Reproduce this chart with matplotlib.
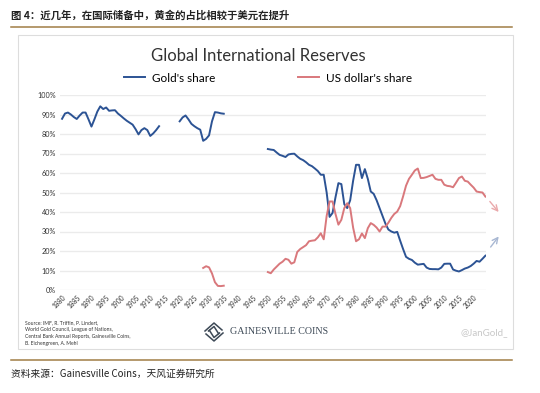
import matplotlib
matplotlib.use("Agg")
import matplotlib.pyplot as plt
from matplotlib.patches import Rectangle
from matplotlib.lines import Line2D
import numpy as np

# ---- data ----
years_a = list(range(1880, 1914))
gold_a = [87.8, 90.5, 91.0, 90.0, 88.7, 87.7, 89.5, 91.0, 91.0, 87.5,
          83.8, 87.5, 91.5, 94.2, 92.8, 93.6, 91.9, 92.1, 92.2, 90.5,
          89.3, 88.0, 86.8, 85.8, 84.8, 82.5, 79.8, 82.0, 83.0, 82.0,
          79.0, 80.3, 82.0, 84.0]

years_b = list(range(1920, 1936))
gold_b = [86.5, 88.5, 89.5, 87.5, 85.2, 84.0, 83.0, 82.2, 76.5, 77.5,
          79.3, 86.5, 91.2, 91.0, 90.6, 90.4]

years_usd_b = list(range(1928, 1936))
usd_b = [11.3, 12.2, 11.6, 8.5, 4.0, 2.1, 2.0, 2.2]

years_c = list(range(1950, 2025))
gold_c = [72.3, 72.0, 71.8, 70.5, 69.3, 68.8, 68.2, 69.5, 69.8, 69.9,
          68.5, 67.3, 66.6, 65.5, 64.2, 63.5, 62.3, 61.0, 59.1, 59.1,
          50.0, 37.5, 39.5, 47.5, 54.8, 54.3, 44.0, 42.0, 46.0, 56.0,
          64.2, 64.2, 57.4, 62.0, 57.0, 50.5, 49.3, 46.0, 42.0, 38.0,
          34.0, 31.0, 30.0, 29.4, 29.8, 25.3, 21.0, 17.0, 16.0, 15.4,
          14.0, 13.0, 13.2, 13.4, 11.5, 10.8, 10.7, 10.7, 10.6, 11.5,
          13.4, 13.5, 13.5, 10.5, 9.9, 9.5, 10.2, 11.0, 11.5, 12.3,
          13.5, 14.9, 14.5, 16.0, 17.6]
usd_c = [9.2, 8.6, 10.5, 12.0, 13.5, 14.5, 16.0, 15.5, 13.5, 14.2,
         19.5, 21.0, 22.0, 23.0, 25.0, 25.3, 25.5, 27.0, 29.1, 26.0,
         38.0, 45.4, 45.4, 39.0, 33.5, 36.0, 42.0, 44.5, 42.0, 32.0,
         25.0, 26.0, 29.0, 26.6, 31.7, 34.3, 33.4, 32.0, 30.0, 32.5,
         32.5, 34.5, 37.0, 39.0, 40.2, 43.0, 48.0, 53.5, 57.0, 59.1,
         61.3, 62.3, 57.4, 57.5, 57.9, 58.5, 59.1, 57.0, 56.5, 56.5,
         54.0, 53.4, 53.2, 52.7, 55.0, 57.4, 58.2, 56.0, 55.6, 54.0,
         52.5, 50.5, 50.2, 50.0, 47.9]

tick_years = list(range(1880, 2021, 5))
y_ticks = list(range(0, 101, 10))

gold_col = "#2c5394"
usd_col = "#d9787c"

fig = plt.figure(figsize=(5.4, 3.93), dpi=100)
W, H = 540, 393


def fx(px):
    return px / W


def fy(py):
    return 1 - py / H


# header / footer
fig.text(fx(11), fy(15), "图 4：近几年，在国际储备中，黄金的占比相较于美元在提升",
         family=["Noto Sans CJK SC", "DejaVu Sans"], fontsize=7.5,
         fontweight="bold", color="#222222", va="center", ha="left")
fig.add_artist(Line2D([fx(11), fx(512)], [fy(27), fy(27)], color="#a17d45", lw=1.1))
fig.add_artist(Line2D([fx(11), fx(512)], [fy(360), fy(360)], color="#a17d45", lw=1.1))
fig.text(fx(11), fy(374), "资料来源：Gainesville Coins，天风证券研究所",
         family=["Noto Sans CJK SC", "DejaVu Sans"], fontsize=7,
         color="#222222", va="center", ha="left")

# chart frame
fig.add_artist(Rectangle((fx(18), fy(349)), fx(513) - fx(18), fy(35) - fy(349),
                         transform=fig.transFigure, fill=False,
                         edgecolor="#dddddd", lw=0.8))

fig.text(fx(258), fy(56), "Global International Reserves", family="Lato",
         fontsize=12, color="#333333", ha="center", va="center")

# axes
ax = fig.add_axes([fx(60), fy(290), fx(486) - fx(60), fy(95) - fy(290)])
ax.plot(years_a, gold_a, color=gold_col, lw=1.4, label="Gold's share")
ax.plot(years_b, gold_b, color=gold_col, lw=1.4)
ax.plot(years_c, gold_c, color=gold_col, lw=1.4)
ax.plot(years_usd_b, usd_b, color=usd_col, lw=1.4, label="US dollar's share")
ax.plot(years_c, usd_c, color=usd_col, lw=1.4)

ax.set_xlim(1879.3, 2024.2)
ax.set_ylim(0, 100)
ax.set_yticks(y_ticks)
ax.set_yticklabels([f"{v}%" for v in y_ticks], family="Lato", fontsize=5.2,
                   color="#333333")
ax.set_xticks(tick_years)
ax.set_xticklabels([str(y) for y in tick_years], rotation=45, ha="right",
                   rotation_mode="anchor", family="Lato", fontsize=4.8,
                   color="#333333")
ax.tick_params(length=0, pad=3)
ax.grid(axis="y", color="#ebebeb", lw=1.0)
ax.set_axisbelow(True)
for s in ax.spines.values():
    s.set_visible(False)

# trend arrows
ax.annotate("", xy=(2029.1, 38.9), xytext=(2024.9, 46.5),
            arrowprops=dict(arrowstyle="->", color="#eaa9ab", lw=1.0),
            annotation_clip=False)
ax.annotate("", xy=(2029.1, 28.6), xytext=(2025.2, 20.9),
            arrowprops=dict(arrowstyle="->", color="#a9b8d3", lw=1.0),
            annotation_clip=False)

# legend
fig.legend(handles=ax.get_lines()[:1] + [ax.get_lines()[3]],
           labels=["Gold's share", "US dollar's share"],
           loc="center", bbox_to_anchor=(fx(268), fy(78)), ncol=2,
           frameon=False, prop={"family": "Lato", "size": 8.5},
           handlelength=1.8, columnspacing=7.0, handletextpad=0.6)

# source note
fig.text(fx(25), fy(333), "Source: IMF, R. Triffin, P. Lindert,\n"
         "World Gold Council, League of Nations,\n"
         "Central Bank Annual Reports, Gainesville Coins,\n"
         "B. Eichengreen, A. Mehl", family="Lato", fontsize=3.6,
         color="#333333", ha="left", va="center", linespacing=1.5)

# logo
cx, cy, r = 214, 332, 9
logo = "#3d4956"
for d in (0, 3.5):
    fig.add_artist(Line2D([fx(cx - r + d), fx(cx), fx(cx + r - d - 1)],
                          [fy(cy - 1), fy(cy - r + d), fy(cy - 2 + d)],
                          color=logo, lw=1.1))
    fig.add_artist(Line2D([fx(cx + r - d), fx(cx), fx(cx - r + d + 1)],
                          [fy(cy + 1), fy(cy + r - d), fy(cy + 2 - d)],
                          color=logo, lw=1.1))
fig.text(fx(230), fy(332), "GAINESVILLE COINS", family="Liberation Serif",
         fontsize=7.2, color=logo, ha="left", va="center")

fig.text(fx(508), fy(333), "@JanGold_", family="Lato", fontsize=7,
         color="#c8c8c8", ha="right", va="center")

fig.savefig("out.png", dpi=100)
